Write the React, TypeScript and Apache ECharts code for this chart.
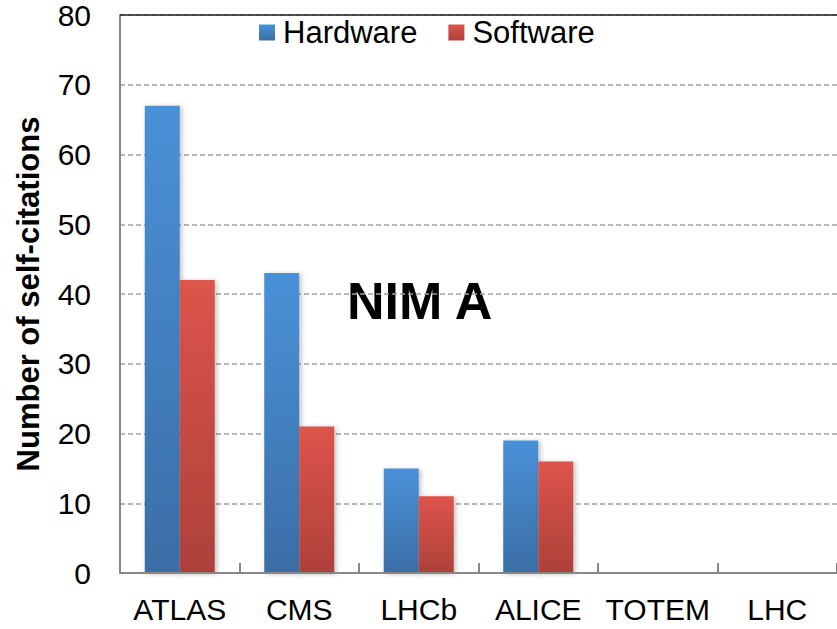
import React, { useEffect, useRef } from "react";
import * as echarts from "echarts";

const categories = ["ATLAS", "CMS", "LHCb", "ALICE", "TOTEM", "LHC"];
const hardware = [67, 43, 15, 19, 0, 0];
const software = [42, 21, 11, 16, 0, 0];
const seriesNames = ["Hardware", "Software"];
const yTitle = "Number of self-citations";
const chartLabel = "NIM A";

const FONT = "'Liberation Sans', Arial, sans-serif";

function grad(top: string, bottom: string) {
  return new echarts.graphic.LinearGradient(0, 0, 0, 1, [
    { offset: 0, color: top },
    { offset: 1, color: bottom },
  ]);
}

export default function App() {
  const ref = useRef<HTMLDivElement>(null);
  useEffect(() => {
    if (!ref.current) return;
    const chart = echarts.init(ref.current, null, { renderer: "svg" });
    chart.setOption({
      animation: false,
      backgroundColor: "#fff",
      textStyle: { fontFamily: FONT },
      grid: { left: 120, right: -6, top: 14, bottom: 56, containLabel: false },
      legend: {
        left: 259,
        top: 17,
        padding: 0,
        itemWidth: 16,
        itemHeight: 16,
        itemGap: 31,
        icon: "rect",
        textStyle: { fontSize: 31, color: "#000", fontFamily: FONT, padding: [0, 0, 0, 3] },
        data: seriesNames,
      },
      xAxis: {
        type: "category",
        data: categories,
        axisLine: { lineStyle: { color: "#888", width: 2 } },
        axisTick: { show: true, interval: 0, inside: true, length: 10, lineStyle: { color: "#888", width: 2 } },
        axisLabel: { interval: 0, fontSize: 30, color: "#000", margin: 21, fontFamily: FONT },
        splitLine: { show: false },
        z: 5,
      },
      yAxis: {
        type: "value",
        min: 0,
        max: 80,
        interval: 10,
        name: yTitle,
        nameLocation: "middle",
        nameGap: 76,
        nameTextStyle: { fontSize: 31, fontWeight: "bold", color: "#000", fontFamily: FONT },
        axisLine: { show: true, lineStyle: { color: "#888", width: 2 } },
        axisTick: { show: false },
        axisLabel: { fontSize: 30, color: "#000", margin: 29, fontFamily: FONT },
        splitLine: { lineStyle: { color: "#a0a0a0", width: 1.5, type: [5, 3] } },
      },
      graphic: [
        {
          type: "text",
          left: 347,
          top: 275,
          z: 0,
          style: { text: chartLabel, fontSize: 52, fontWeight: "bold", fill: "#000", fontFamily: FONT },
        },
      ],
      series: [
        {
          name: seriesNames[0],
          type: "bar",
          data: hardware,
          barWidth: 35,
          barGap: "0%",
          itemStyle: {
            color: grad("#4a91d8", "#3a6ea6"),
            shadowBlur: 5,
            shadowColor: "rgba(0,0,0,0.25)",
            shadowOffsetX: 2,
            shadowOffsetY: 1,
          },
          markLine: {
            silent: true,
            symbol: "none",
            label: { show: false },
            lineStyle: { color: "#222", width: 1.5, type: "solid" },
            data: [{ yAxis: 80 }],
          },
        },
        {
          name: seriesNames[1],
          type: "bar",
          data: software,
          barWidth: 35,
          itemStyle: {
            color: grad("#dd544b", "#ad413a"),
            shadowBlur: 5,
            shadowColor: "rgba(0,0,0,0.25)",
            shadowOffsetX: 2,
            shadowOffsetY: 1,
          },
        },
      ],
    });
    return () => chart.dispose();
  }, []);
  return (
    <div
      ref={ref}
      style={{ position: "fixed", left: 0, top: 0, width: 837, height: 629 }}
    />
  );
}
